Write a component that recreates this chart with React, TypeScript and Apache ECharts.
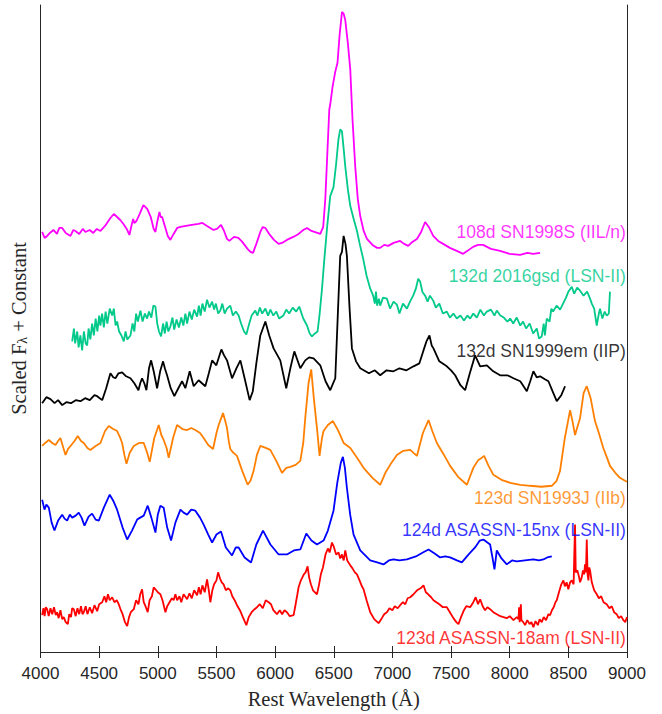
import React, { useEffect, useRef } from "react";
import * as echarts from "echarts";

// Wavelength (Å), scaled flux + constant (arbitrary units)
const sn1998S: number[][] = [
  [4014, 422], [4035, 416], [4057, 418], [4080, 421], [4110, 424], [4140, 420], [4160, 426], [4185, 426], [4215, 421], [4256, 418],
  [4280, 424], [4298, 423], [4330, 420], [4360, 425], [4383, 422], [4420, 424], [4450, 421], [4480, 425], [4511, 423], [4550, 428],
  [4596, 436], [4625, 440], [4653, 437], [4680, 434], [4707, 430], [4735, 425], [4758, 419], [4775, 428], [4790, 435], [4800, 431],
  [4818, 433], [4845, 440], [4877, 449], [4895, 447], [4911, 445], [4940, 437], [4965, 425], [4980, 422], [4995, 432], [5014, 442],
  [5025, 437], [5037, 437], [5060, 428], [5085, 418], [5107, 414], [5135, 420], [5165, 426], [5193, 427], [5240, 428], [5290, 429],
  [5346, 430], [5380, 431], [5420, 428], [5474, 424], [5505, 425], [5539, 429], [5565, 423], [5590, 415], [5610, 413], [5650, 417],
  [5687, 416], [5720, 412], [5765, 405], [5790, 402], [5812, 401], [5840, 410], [5874, 422], [5895, 427], [5917, 426], [5950, 420],
  [5990, 414], [6030, 410], [6059, 411], [6100, 414], [6155, 417], [6200, 420], [6240, 424], [6272, 426], [6310, 423], [6385, 420],
  [6410, 427], [6428, 455], [6445, 500], [6462, 545], [6470, 550], [6490, 568], [6513, 583], [6532, 592], [6550, 620], [6570, 643],
  [6585, 641], [6598, 635], [6620, 612], [6641, 585], [6660, 535], [6683, 488], [6705, 455], [6726, 438], [6755, 423], [6783, 415],
  [6830, 409], [6870, 406], [6896, 406], [6930, 409], [6964, 408], [7010, 411], [7066, 413], [7100, 410], [7135, 408], [7170, 412],
  [7209, 415], [7245, 422], [7279, 432], [7310, 427], [7348, 418], [7390, 413], [7433, 410], [7490, 406], [7549, 403], [7603, 400],
  [7640, 403], [7688, 407], [7730, 409], [7773, 409], [7840, 405], [7918, 403], [8000, 400], [8089, 399], [8150, 401], [8200, 400],
  [8259, 401]
];

const sn2016gsd: number[][] = [
  [4270, 312], [4285, 325], [4295, 310], [4313, 322], [4325, 306], [4340, 318], [4355, 303], [4370, 322], [4385, 310], [4398, 308],
  [4410, 325], [4425, 314], [4440, 330], [4455, 318], [4470, 335], [4485, 322], [4500, 338], [4511, 328], [4525, 340], [4540, 326],
  [4555, 342], [4570, 330], [4590, 345], [4611, 338], [4625, 345], [4640, 328], [4653, 332], [4670, 322], [4690, 318], [4710, 312],
  [4725, 322], [4740, 314], [4767, 318], [4785, 330], [4800, 322], [4815, 340], [4830, 332], [4852, 343], [4870, 332], [4890, 340],
  [4909, 335], [4925, 342], [4945, 336], [4962, 348], [4980, 347], [4995, 330], [5010, 322], [5028, 317], [5045, 330], [5060, 320],
  [5075, 332], [5090, 322], [5107, 327], [5125, 336], [5140, 324], [5160, 334], [5180, 326], [5200, 336], [5218, 328], [5235, 340],
  [5250, 330], [5270, 342], [5290, 334], [5310, 344], [5335, 337], [5350, 348], [5365, 338], [5380, 350], [5400, 342], [5420, 354],
  [5440, 346], [5463, 352], [5480, 344], [5495, 350], [5515, 340], [5533, 343], [5550, 350], [5570, 340], [5590, 345], [5618, 348],
  [5640, 338], [5665, 342], [5689, 338], [5710, 330], [5735, 322], [5755, 319], [5775, 328], [5800, 338], [5831, 343], [5850, 338],
  [5870, 346], [5890, 340], [5917, 345], [5940, 338], [5960, 344], [5985, 338], [6010, 342], [6035, 335], [6070, 338], [6095, 344],
  [6120, 340], [6150, 346], [6180, 342], [6206, 347], [6240, 335], [6272, 328], [6295, 320], [6314, 317], [6340, 320], [6362, 322],
  [6380, 340], [6400, 365], [6420, 395], [6442, 425], [6470, 458], [6498, 467], [6520, 490], [6540, 515], [6555, 525], [6570, 523],
  [6585, 505], [6598, 488], [6620, 465], [6641, 448], [6670, 435], [6698, 423], [6725, 408], [6751, 395], [6780, 378], [6811, 365],
  [6836, 358], [6850, 350], [6860, 362], [6870, 348], [6885, 355], [6896, 348], [6920, 356], [6953, 355], [6980, 345], [7010, 352],
  [7038, 349], [7060, 340], [7090, 350], [7124, 345], [7150, 352], [7177, 358], [7200, 365], [7220, 375], [7237, 372], [7255, 362],
  [7279, 358], [7300, 352], [7320, 358], [7348, 353], [7370, 346], [7400, 350], [7430, 340], [7464, 342], [7490, 336], [7520, 340],
  [7549, 335], [7580, 338], [7610, 333], [7640, 338], [7663, 335], [7690, 340], [7720, 336], [7750, 344], [7780, 338], [7805, 342],
  [7840, 344], [7870, 338], [7890, 343], [7920, 338], [7950, 336], [7980, 332], [8004, 335], [8030, 330], [8060, 336], [8090, 328],
  [8114, 332], [8140, 325], [8170, 330], [8200, 320], [8231, 325], [8250, 315], [8273, 317], [8290, 330], [8300, 318], [8316, 335],
  [8340, 332], [8355, 345], [8370, 342], [8400, 348], [8430, 344], [8455, 350], [8480, 356], [8500, 362], [8529, 367], [8550, 360],
  [8575, 366], [8600, 363], [8630, 358], [8660, 362], [8685, 355], [8700, 350], [8720, 345], [8742, 328], [8760, 340], [8770, 345],
  [8790, 335], [8810, 342], [8827, 338], [8845, 340], [8855, 362]
];

const sn1999em: number[][] = [
  [4014, 250], [4050, 256], [4085, 254], [4120, 250], [4150, 253], [4185, 248], [4220, 251], [4260, 250], [4300, 253], [4341, 252],
  [4380, 255], [4420, 253], [4460, 258], [4483, 257], [4526, 253], [4560, 265], [4596, 280], [4620, 276], [4639, 275], [4665, 280],
  [4696, 281], [4730, 277], [4767, 275], [4800, 270], [4835, 263], [4850, 270], [4866, 275], [4885, 270], [4903, 263], [4925, 285],
  [4943, 293], [4965, 282], [4994, 265], [5020, 282], [5045, 292], [5060, 285], [5079, 278], [5110, 265], [5141, 257], [5175, 265],
  [5207, 272], [5235, 265], [5272, 282], [5306, 267], [5348, 273], [5405, 267], [5435, 280], [5463, 293], [5499, 288], [5542, 304],
  [5565, 298], [5590, 293], [5633, 275], [5670, 285], [5704, 293], [5740, 275], [5783, 253], [5810, 262], [5840, 290], [5874, 318],
  [5917, 332], [5950, 318], [5987, 305], [6044, 293], [6095, 265], [6130, 285], [6164, 302], [6215, 285], [6257, 293], [6290, 296],
  [6328, 295], [6385, 288], [6430, 272], [6470, 263], [6513, 275], [6535, 340], [6555, 398], [6570, 402], [6584, 418], [6600, 410],
  [6612, 398], [6635, 345], [6655, 305], [6690, 292], [6726, 285], [6800, 280], [6850, 283], [6896, 278], [6950, 283], [7009, 282],
  [7060, 285], [7120, 283], [7180, 287], [7230, 290], [7265, 303], [7290, 312], [7316, 318], [7335, 308], [7350, 305], [7400, 292],
  [7464, 287], [7500, 283], [7535, 278], [7580, 268], [7620, 263], [7660, 280], [7705, 298], [7748, 287], [7805, 288], [7860, 282],
  [7918, 278], [7980, 278], [8032, 275], [8090, 272], [8146, 262], [8175, 272], [8202, 282], [8230, 276], [8259, 277], [8300, 274],
  [8330, 272], [8365, 262], [8401, 252], [8440, 258], [8472, 267]
];

const sn1993J: number[][] = [
  [4014, 207], [4040, 210], [4071, 213], [4100, 210], [4128, 208], [4150, 212], [4170, 215], [4195, 205], [4213, 198], [4235, 204],
  [4256, 207], [4290, 212], [4318, 217], [4345, 212], [4369, 210], [4400, 205], [4426, 203], [4470, 207], [4511, 210], [4550, 222],
  [4582, 227], [4620, 224], [4653, 222], [4680, 215], [4696, 210], [4715, 198], [4733, 189], [4760, 200], [4795, 207], [4840, 210],
  [4880, 210], [4910, 200], [4931, 191], [4970, 215], [5008, 228], [5030, 218], [5050, 213], [5075, 205], [5093, 195], [5130, 215],
  [5164, 228], [5210, 224], [5250, 223], [5285, 225], [5320, 223], [5360, 220], [5391, 215], [5430, 208], [5471, 204], [5500, 220],
  [5519, 228], [5556, 240], [5575, 232], [5590, 225], [5605, 212], [5618, 204], [5645, 200], [5675, 197], [5720, 182], [5766, 168],
  [5790, 172], [5817, 182], [5845, 198], [5874, 207], [5920, 205], [5959, 203], [6010, 192], [6059, 180], [6095, 185], [6130, 186],
  [6175, 188], [6215, 192], [6240, 210], [6257, 235], [6285, 270], [6308, 284], [6330, 255], [6357, 225], [6379, 197], [6400, 215],
  [6413, 222], [6450, 228], [6493, 232], [6540, 222], [6584, 210], [6641, 205], [6700, 195], [6754, 185], [6830, 175], [6896, 168],
  [6940, 180], [6981, 188], [7038, 198], [7090, 202], [7152, 203], [7180, 200], [7209, 197], [7260, 220], [7308, 233], [7340, 222],
  [7379, 210], [7440, 198], [7492, 187], [7560, 176], [7635, 168], [7690, 185], [7733, 193], [7760, 195], [7782, 197], [7820, 187],
  [7861, 178], [7930, 173], [8004, 170], [8090, 168], [8174, 167], [8270, 166], [8359, 167], [8400, 172], [8429, 182], [8470, 215],
  [8515, 243], [8535, 232], [8557, 218], [8600, 235], [8630, 260], [8657, 267], [8690, 255], [8727, 232], [8760, 220], [8798, 205],
  [8830, 195], [8855, 187], [8900, 180], [8940, 175], [8983, 172], [9000, 171]
];

const asassn15nx: number[][] = [
  [4014, 153], [4034, 143], [4050, 148], [4071, 145], [4095, 130], [4119, 122], [4150, 132], [4185, 138], [4205, 134], [4227, 132],
  [4250, 138], [4270, 135], [4300, 137], [4326, 140], [4350, 135], [4375, 127], [4410, 136], [4440, 139], [4470, 133], [4497, 132],
  [4540, 145], [4590, 158], [4620, 152], [4653, 143], [4700, 125], [4739, 113], [4780, 122], [4824, 133], [4850, 135], [4880, 137],
  [4914, 147], [4945, 135], [4980, 120], [5000, 138], [5022, 147], [5050, 145], [5080, 125], [5113, 112], [5150, 130], [5193, 143],
  [5220, 140], [5250, 138], [5285, 143], [5320, 142], [5360, 135], [5391, 128], [5430, 118], [5463, 110], [5500, 118], [5539, 121],
  [5580, 105], [5633, 97], [5665, 105], [5689, 105], [5740, 95], [5795, 90], [5840, 108], [5897, 122], [5960, 108], [6030, 98],
  [6101, 98], [6160, 102], [6215, 103], [6266, 119], [6310, 112], [6357, 108], [6413, 112], [6450, 122], [6498, 142], [6530, 170],
  [6560, 190], [6578, 196], [6595, 185], [6612, 165], [6640, 138], [6669, 118], [6726, 102], [6811, 92], [6870, 90], [6924, 88],
  [6970, 92], [7009, 93], [7060, 92], [7124, 93], [7200, 96], [7260, 100], [7308, 103], [7360, 99], [7407, 95], [7450, 96],
  [7492, 95], [7550, 92], [7592, 90], [7650, 98], [7705, 105], [7745, 112], [7776, 113], [7810, 110], [7833, 108], [7845, 100],
  [7853, 95], [7870, 83], [7890, 102], [7930, 94], [7975, 88], [8020, 92], [8060, 91], [8130, 92], [8202, 93], [8250, 92],
  [8287, 93], [8320, 95], [8359, 96]
];

const asassn18am: number[][] = [
  [4014, 37], [4025, 44], [4035, 36], [4045, 45], [4057, 43], [4070, 36], [4085, 44], [4100, 38], [4115, 45], [4130, 37],
  [4142, 40], [4155, 34], [4170, 42], [4185, 33], [4198, 35], [4215, 30], [4233, 28], [4245, 38], [4260, 35], [4270, 44],
  [4284, 43], [4300, 36], [4315, 44], [4330, 38], [4345, 46], [4358, 38], [4369, 40], [4385, 46], [4400, 38], [4420, 45],
  [4440, 39], [4460, 47], [4483, 41], [4500, 48], [4526, 50], [4545, 56], [4560, 50], [4575, 58], [4590, 52], [4611, 55],
  [4630, 50], [4650, 52], [4667, 48], [4685, 42], [4700, 38], [4720, 30], [4739, 26], [4755, 35], [4770, 40], [4795, 43],
  [4815, 52], [4835, 48], [4850, 58], [4866, 63], [4880, 50], [4895, 46], [4914, 40], [4930, 52], [4950, 56], [4965, 65],
  [4980, 63], [5000, 60], [5022, 58], [5040, 52], [5065, 40], [5080, 46], [5100, 50], [5120, 54], [5135, 52], [5150, 58],
  [5165, 52], [5185, 56], [5200, 50], [5220, 58], [5250, 53], [5270, 59], [5290, 54], [5310, 62], [5335, 57], [5350, 65],
  [5365, 58], [5380, 67], [5400, 60], [5420, 73], [5435, 62], [5448, 50], [5465, 62], [5480, 68], [5500, 72], [5514, 80],
  [5530, 74], [5545, 70], [5561, 68], [5580, 62], [5600, 64], [5618, 62], [5635, 56], [5655, 52], [5675, 47], [5700, 42],
  [5725, 35], [5755, 27], [5775, 35], [5800, 40], [5825, 43], [5846, 45], [5870, 48], [5895, 44], [5920, 52], [5945, 50],
  [5965, 48], [5985, 42], [6016, 38], [6040, 42], [6060, 38], [6080, 42], [6101, 40], [6125, 36], [6158, 37], [6175, 48],
  [6190, 58], [6200, 65], [6220, 72], [6245, 78], [6260, 80], [6277, 86], [6290, 75], [6305, 68], [6323, 62], [6340, 60],
  [6357, 58], [6375, 68], [6390, 78], [6408, 85], [6430, 98], [6450, 104], [6465, 100], [6485, 110], [6500, 106], [6520, 98],
  [6541, 100], [6555, 94], [6570, 98], [6585, 92], [6598, 102], [6615, 92], [6641, 87], [6660, 84], [6680, 80], [6698, 78],
  [6720, 72], [6740, 66], [6754, 63], [6780, 52], [6811, 40], [6845, 33], [6882, 29], [6910, 34], [6930, 38], [6953, 40],
  [6975, 44], [7000, 42], [7020, 46], [7045, 44], [7066, 47], [7090, 50], [7110, 48], [7130, 54], [7152, 55], [7180, 58],
  [7210, 62], [7240, 64], [7265, 67], [7285, 60], [7305, 58], [7330, 55], [7350, 52], [7375, 50], [7400, 48], [7430, 45],
  [7464, 45], [7490, 40], [7520, 34], [7545, 30], [7563, 28], [7585, 35], [7610, 42], [7630, 46], [7663, 45], [7690, 50],
  [7710, 55], [7730, 48], [7748, 53], [7770, 46], [7790, 42], [7810, 45], [7833, 43], [7860, 40], [7890, 38], [7920, 36],
  [7947, 35], [7975, 34], [8000, 36], [8032, 32], [8060, 35], [8075, 33], [8080, 45], [8085, 30], [8095, 48], [8100, 32],
  [8115, 30], [8131, 27], [8150, 32], [8170, 28], [8185, 30], [8202, 25], [8220, 31], [8240, 27], [8255, 33], [8273, 30],
  [8290, 35], [8310, 32], [8330, 38], [8344, 37], [8360, 42], [8375, 45], [8390, 50], [8401, 52], [8420, 60], [8440, 68],
  [8458, 72], [8470, 66], [8485, 70], [8500, 63], [8515, 70], [8529, 72], [8545, 68], [8550, 95], [8557, 128], [8563, 80],
  [8577, 82], [8590, 76], [8600, 70], [8614, 75], [8625, 82], [8635, 78], [8642, 88], [8650, 80], [8657, 113], [8664, 78],
  [8671, 72], [8678, 85], [8685, 82], [8700, 70], [8720, 62], [8742, 58], [8760, 54], [8780, 56], [8800, 50], [8827, 48],
  [8850, 44], [8870, 46], [8890, 40], [8912, 38], [8930, 34], [8950, 36], [8969, 32], [8985, 30], [9000, 35]
];

const seriesNames = [
  "108d SN1998S (IIL/n)",
  "132d 2016gsd (LSN-II)",
  "132d SN1999em (IIP)",
  "123d SN1993J (IIb)",
  "124d ASASSN-15nx (LSN-II)",
  "123d ASASSN-18am (LSN-II)"
];
const seriesData = [sn1998S, sn2016gsd, sn1999em, sn1993J, asassn15nx, asassn18am];
const seriesColors = ["#ff00ff", "#00c98a", "#000000", "#ff8000", "#0000ff", "#ff0000"];
// label anchor (wavelength at right end, value level)
const labelPositions = [
  [8990, 422],
  [8990, 378],
  [8990, 302],
  [8990, 155],
  [8990, 123],
  [8990, 14]
];

const xTicks = [4000, 4500, 5000, 5500, 6000, 6500, 7000, 7500, 8000, 8500, 9000];

export default function App() {
  const ref = useRef<HTMLDivElement>(null);
  useEffect(() => {
    if (!ref.current) return;
    const chart = echarts.init(ref.current, null, { renderer: "svg" });
    const axisColor = "#262626";
    const series: any[] = seriesData.map((d, i) => ({
      type: "line",
      name: seriesNames[i],
      data: d,
      showSymbol: false,
      symbol: "none",
      lineStyle: { color: seriesColors[i], width: 1.8 },
      z: 10 - i
    }));
    series.push({
      type: "scatter",
      data: labelPositions.map((p, i) => ({
        value: p,
        name: seriesNames[i],
        label: { color: seriesColors[i] }
      })),
      symbolSize: 0,
      label: {
        show: true,
        position: "left",
        distance: 0,
        formatter: (p: any) => p.name,
        fontFamily: "Liberation Sans, Arial, sans-serif",
        fontSize: 17.5
      },
      z: 20
    });
    chart.setOption({
      animation: false,
      grid: { left: 40, right: 35, top: 5, bottom: 59, containLabel: false },
      xAxis: [
        {
          type: "value",
          min: xTicks[0],
          max: xTicks[xTicks.length - 1],
          interval: 500,
          position: "bottom",
          axisLine: { show: true, lineStyle: { color: axisColor, width: 1 } },
          axisTick: { show: true, inside: true, length: 6, lineStyle: { color: axisColor, width: 1 } },
          axisLabel: {
            fontFamily: "Liberation Sans, Arial, sans-serif",
            fontSize: 17,
            color: axisColor,
            margin: 13,
            formatter: (v: number) => String(v)
          },
          splitLine: { show: false },
          name: "Rest Wavelength (Å)",
          nameLocation: "middle",
          nameGap: 36,
          nameTextStyle: { fontFamily: "Liberation Serif, serif", fontSize: 20.5, color: axisColor }
        },
        {
          type: "value",
          min: xTicks[0],
          max: xTicks[xTicks.length - 1],
          interval: 500,
          position: "top",
          axisLine: { show: true, lineStyle: { color: axisColor, width: 1 } },
          axisTick: { show: true, inside: true, length: 6, lineStyle: { color: axisColor, width: 1 } },
          axisLabel: { show: false },
          splitLine: { show: false }
        }
      ],
      yAxis: [
        {
          type: "value",
          min: 0,
          max: 650,
          axisLine: { show: true, lineStyle: { color: axisColor, width: 1 } },
          axisTick: { show: false },
          axisLabel: { show: false },
          splitLine: { show: false },
          name: "Scaled F{sub|λ} + Constant",
          nameLocation: "middle",
          nameGap: 11,
          nameTextStyle: {
            fontFamily: "Liberation Serif, serif",
            fontSize: 20.5,
            color: axisColor,
            rich: {
              sub: { fontFamily: "Liberation Serif, serif", fontSize: 14, color: axisColor, verticalAlign: "bottom", padding: [8, 0, 0, 0] }
            }
          }
        },
        {
          type: "value",
          min: 0,
          max: 650,
          position: "right",
          axisLine: { show: true, lineStyle: { color: axisColor, width: 1 } },
          axisTick: { show: false },
          axisLabel: { show: false },
          splitLine: { show: false }
        }
      ],
      series
    });
    return () => chart.dispose();
  }, []);
  return <div ref={ref} style={{ position: "absolute", left: 0, top: 0, width: 662, height: 714 }} />;
}
